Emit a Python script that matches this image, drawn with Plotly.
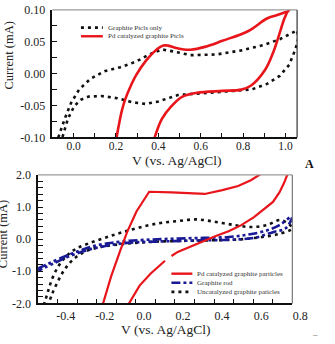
import plotly.graph_objects as go

W, H = 335, 344

# ---------------- Top panel data ----------------
top_graphite_x = [-0.072, -0.042, -0.012, 0.026, 0.078, 0.146, 0.221, 0.296, 0.356, 0.417, 0.469, 0.552,
                  0.672, 0.792, 0.898, 0.973, 1.056,
                  1.060, 1.048, 1.018, 0.973, 0.913, 0.838, 0.747, 0.612, 0.492, 0.401, 0.341, 0.281,
                  0.206, 0.131, 0.071, 0.033, 0.003, -0.027, -0.053]
top_graphite_y = [-0.100, -0.071, -0.046, -0.025, -0.0085, 0.004, 0.010, 0.019, 0.030, 0.038, 0.035, 0.029,
                  0.030, 0.0365, 0.045, 0.054, 0.068,
                  0.054, 0.039, 0.014, -0.0035, -0.016, -0.025, -0.027, -0.031, -0.0335, -0.0435, -0.0475, -0.045,
                  -0.0385, -0.035, -0.036, -0.041, -0.051, -0.071, -0.100]

top_pd_x = [0.203, 0.214, 0.228, 0.244, 0.266, 0.296, 0.341, 0.386, 0.424, 0.445, 0.475, 0.520, 0.552,
            0.620, 0.702, 0.823, 0.913, 0.958, 1.018,
            1.012, 0.995, 0.973, 0.943, 0.905, 0.838, 0.792, 0.702, 0.582, 0.514, 0.462, 0.417, 0.383]
top_pd_y = [-0.100, -0.080, -0.058, -0.040, -0.022, -0.002, 0.020, 0.036, 0.044, 0.044, 0.041, 0.038, 0.0375,
            0.042, 0.0515, 0.0665, 0.0865, 0.0915, 0.0985,
            0.098, 0.0865, 0.064, 0.034, 0.0065, -0.0185, -0.025, -0.027, -0.030, -0.036, -0.051, -0.071, -0.100]

top_xtick_vals = [0.0, 0.1, 0.2, 0.3, 0.4, 0.5, 0.6, 0.7, 0.8, 0.9, 1.0]
top_xtick_text = ["0.0", "", "0.2", "", "0.4", "", "0.6", "", "0.8", "", "1.0"]
top_ytick_vals = [-0.1, -0.075, -0.05, -0.025, 0.0, 0.025, 0.05, 0.075, 0.1]
top_ytick_text = ["-0.10", "", "-0.05", "", "0.00", "", "0.05", "", "0.10"]

# ---------------- Bottom panel data ----------------
bot_pd_x = [-0.172, -0.127, -0.081, -0.045, 0.003, 0.068,
            0.182, 0.279, 0.352, 0.442, 0.523, 0.588, 0.628, 0.644,
            None,
            0.779, 0.774, 0.758, 0.734, 0.701, 0.653, 0.604, 0.539, 0.474, 0.409, 0.344, 0.279, 0.214, 0.182,
            None,
            0.149, 0.076, 0.019, -0.041]
bot_pd_y = [-2.09, -1.168, -0.376, 0.218, 0.861, 1.475,
            1.455, 1.426, 1.406, 1.525, 1.653, 1.832, 1.98, 2.05,
            None,
            2.05, 2.0, 1.752, 1.455, 1.158, 0.911, 0.683, 0.436, 0.248, 0.099, -0.059, -0.228, -0.396, -0.525,
            None,
            -0.673, -1.069, -1.446, -2.06]

bot_rod_x = [-0.503, -0.451, -0.386, -0.305, -0.224, -0.143, -0.045, 0.084, 0.214, 0.344, 0.474, 0.571,
             0.669, 0.734, 0.799,
             0.766, 0.701, 0.604, 0.474, 0.312, 0.149, -0.029, -0.143, -0.240, -0.338, -0.419, -0.503]
bot_rod_y = [-0.921, -0.772, -0.594, -0.396, -0.228, -0.129, -0.059, -0.010, 0.020, 0.040, 0.069, 0.139,
             0.267, 0.436, 0.713,
             0.337, 0.218, 0.040, -0.020, -0.040, -0.069, -0.109, -0.198, -0.327, -0.525, -0.752, -0.990]

bot_uncat_x = [-0.471, -0.451, -0.427, -0.394, -0.354, -0.305, -0.240, -0.159, -0.078, 0.019, 0.117, 0.214,
               0.312, 0.409, 0.506, 0.588, 0.669, 0.742,
               0.799, 0.734, 0.636, 0.523, 0.360, 0.198, 0.036, -0.078, -0.175, -0.256, -0.313, -0.362,
               -0.403, -0.432, -0.448]
bot_uncat_y = [-2.06, -1.663, -1.218, -0.822, -0.525, -0.297, -0.129, 0.040, 0.198, 0.366, 0.495, 0.564,
               0.614, 0.535, 0.436, 0.376, 0.436, 0.594,
               0.337, 0.168, 0.059, -0.010, -0.040, -0.059, -0.099, -0.158, -0.238, -0.376, -0.594, -0.921,
               -1.366, -1.762, -2.06]

bot_xtick_vals = [-0.4, -0.3, -0.2, -0.1, 0.0, 0.1, 0.2, 0.3, 0.4, 0.5, 0.6, 0.7, 0.8]
bot_xtick_text = ["-0.4", "", "-0.2", "", "0.0", "", "0.2", "", "0.4", "", "0.6", "", "0.8"]
bot_ytick_vals = [-2.0, -1.8, -1.6, -1.4, -1.2, -1.0, -0.8, -0.6, -0.4, -0.2, 0.0, 0.2, 0.4, 0.6, 0.8,
                  1.0, 1.2, 1.4, 1.6, 1.8, 2.0]
bot_ytick_text = ["-2.0", "", "", "", "", "-1.0", "", "", "", "", "0.0", "", "", "", "",
                  "1.0", "", "", "", "", "2.0"]

top_legend = ["Graphite Ptcls only", "Pd catalyzed graphite Ptcls"]
bot_legend = ["Pd catalyzed graphite particles", "Graphite rod", "Uncatalyzed graphite paticles"]

RED = "#e8151b"
BLUE = "#1a1a96"
BLACK = "#111111"
DOT = "3px,4px"
DASHDOT = "9px,3px,3px,3px,3px,3px"
SERIF = "Liberation Serif"


def px(x):
    return x / W


def py(y):
    return 1 - y / H


fig = go.Figure()
fig.add_trace(go.Scatter(x=top_graphite_x, y=top_graphite_y, mode="lines",
                         line=dict(color=BLACK, width=2.6, dash=DOT), xaxis="x", yaxis="y", showlegend=False))
fig.add_trace(go.Scatter(x=top_pd_x, y=top_pd_y, mode="lines", line_shape="spline",
                         line=dict(color=RED, width=2.6), xaxis="x", yaxis="y", showlegend=False))
fig.add_trace(go.Scatter(x=bot_uncat_x, y=bot_uncat_y, mode="lines", line_shape="spline",
                         line=dict(color=BLACK, width=2.6, dash=DOT), xaxis="x2", yaxis="y2", showlegend=False))
fig.add_trace(go.Scatter(x=bot_rod_x, y=bot_rod_y, mode="lines", line_shape="spline",
                         line=dict(color=BLUE, width=2.6, dash=DASHDOT), xaxis="x2", yaxis="y2", showlegend=False))
fig.add_trace(go.Scatter(x=bot_pd_x, y=bot_pd_y, mode="lines",
                         line=dict(color=RED, width=2.2), xaxis="x2", yaxis="y2", showlegend=False))

tickfont = dict(family=SERIF, size=12, color="#222")
common_axis = dict(showgrid=False, zeroline=False, showline=True, linecolor=BLACK, linewidth=1.5,
                   ticks="inside", ticklen=5, tickwidth=1.2, tickcolor=BLACK, tickmode="array",
                   tickfont=tickfont, mirror=False)

fig.update_layout(
    width=W, height=H, margin=dict(l=0, r=0, t=0, b=0),
    paper_bgcolor="white", plot_bgcolor="white", showlegend=False,
    xaxis=dict(common_axis, domain=[px(55), px(312)], range=[-0.1, 1.055], anchor="y",
               tickvals=top_xtick_vals, ticktext=top_xtick_text, ticklabelstandoff=-3,
               tickfont=dict(family=SERIF, size=11.5, color="#222")),
    yaxis=dict(common_axis, domain=[py(136), py(3)], range=[-0.1, 0.1], anchor="x",
               tickvals=top_ytick_vals, ticktext=top_ytick_text, ticklabelstandoff=3),
    xaxis2=dict(common_axis, domain=[px(40), px(307)], range=[-0.5, 0.8], anchor="y2",
                tickvals=bot_xtick_vals, ticktext=bot_xtick_text, ticklabelstandoff=0,
                ticklabelshift=8),
    yaxis2=dict(common_axis, domain=[py(309), py(175)], range=[-2.0, 2.0], anchor="x2",
                tickvals=bot_ytick_vals, ticktext=bot_ytick_text, ticklabelstandoff=3),
)

shapes = [
    # frame edges (top gray, right)
    dict(type="line", xref="paper", yref="paper", x0=px(55), x1=px(312), y0=py(3), y1=py(3),
         line=dict(color="#999", width=1.2)),
    dict(type="line", xref="paper", yref="paper", x0=px(312), x1=px(312), y0=py(3), y1=py(136),
         line=dict(color="#333", width=1.2)),
    dict(type="line", xref="paper", yref="paper", x0=px(40), x1=px(307), y0=py(175), y1=py(175),
         line=dict(color="#999", width=1.2)),
    dict(type="line", xref="paper", yref="paper", x0=px(307), x1=px(307), y0=py(175), y1=py(309),
         line=dict(color="#777", width=1.2)),
    # top legend samples
    dict(type="line", xref="paper", yref="paper", x0=px(85), x1=px(108), y0=py(21.5), y1=py(21.5),
         line=dict(color=BLACK, width=2.6, dash=DOT)),
    dict(type="line", xref="paper", yref="paper", x0=px(85), x1=px(108), y0=py(30.5), y1=py(30.5),
         line=dict(color=RED, width=2.4)),
    # bottom legend samples
    dict(type="line", xref="paper", yref="paper", x0=px(180), x1=px(202), y0=py(278), y1=py(278),
         line=dict(color=RED, width=2.4)),
    dict(type="line", xref="paper", yref="paper", x0=px(180), x1=px(202), y0=py(287.5), y1=py(287.5),
         line=dict(color=BLUE, width=2.6, dash=DASHDOT)),
    dict(type="line", xref="paper", yref="paper", x0=px(180), x1=px(202), y0=py(297), y1=py(297),
         line=dict(color=BLACK, width=2.6, dash=DOT)),
]
fig.update_layout(shapes=shapes)


def ann(text, x, y, size, xanchor="center", angle=0, color="#222", bold=False):
    return dict(text=("<b>%s</b>" % text) if bold else text, xref="paper", yref="paper",
                x=px(x), y=py(y), xanchor=xanchor, yanchor="middle", showarrow=False,
                textangle=angle, borderpad=0,
                font=dict(family=SERIF, size=size, color=color))


annotations = [
    ann("Current (mA)", 9, 51, 12.5, angle=-90),
    ann("V (vs. Ag/AgCl)", 185, 160, 13.5),
    ann("Current (mA)", 4, 237, 12.5, angle=-90),
    ann("V (vs. Ag/AgCl)", 174, 336, 13.5),
    ann("A", 325, 164, 12, bold=True, color="#111"),
    ann("–", 331, 341, 9, color="#555"),
    ann(top_legend[0], 112, 21.5, 7, xanchor="left", color="#333"),
    ann(top_legend[1], 112, 30.5, 7, xanchor="left", color="#333"),
    ann(bot_legend[0], 206, 278, 7, xanchor="left", color="#333"),
    ann(bot_legend[1], 206, 287.5, 7, xanchor="left", color="#333"),
    ann(bot_legend[2], 206, 297, 7, xanchor="left", color="#333"),
]
fig.update_layout(annotations=annotations)

fig.write_html("out.html")
